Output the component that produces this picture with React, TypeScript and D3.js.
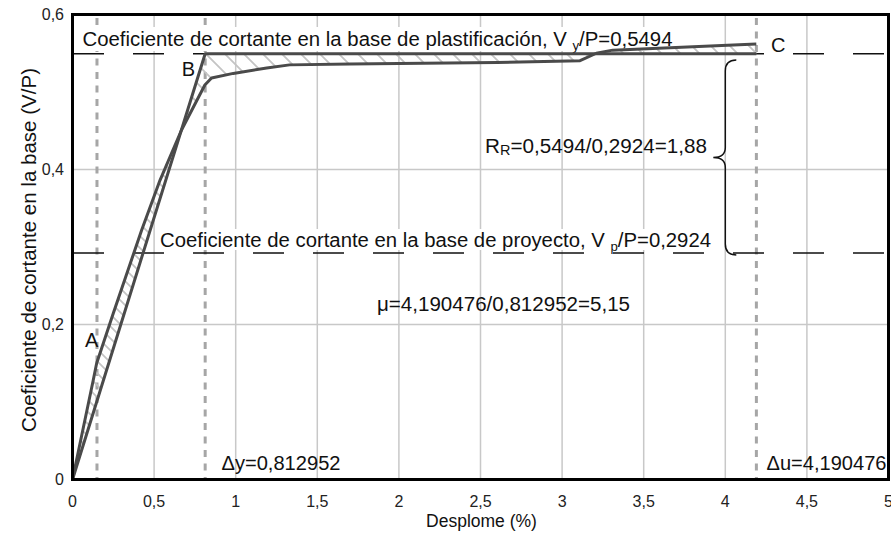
import React from "react";
import * as d3 from "d3";

// ---- data ----
const driftPct = [0, 0.127, 0.148, 0.25, 0.424, 0.536, 0.668, 0.811, 0.852, 0.985, 1.19, 1.33, 1.7, 2.6, 3.11, 3.21, 3.31, 4.19];
const shearCoef = [0, 0.128, 0.15, 0.2145, 0.322, 0.386, 0.451, 0.509, 0.518, 0.524, 0.531, 0.535, 0.536, 0.538, 0.5404, 0.55, 0.554, 0.562];
const bilinearDrift = [0, 0.812952, 4.190476];
const bilinearCoef = [0, 0.5494, 0.5494];
const refLevels = [0.5494, 0.2924];
const markerDrifts = [0.15, 0.812952, 4.190476];
const xTicks = [0, 0.5, 1, 1.5, 2, 2.5, 3, 3.5, 4, 4.5, 5];
const yTicks = [0, 0.2, 0.4, 0.6];
const crossingDrift = 0.668;
const brace = { x: 4.0, top: 0.5413, bottom: 0.2897 };
const pointLabels = [
  { t: "A", x: 0.076, y: 0.171 },
  { t: "B", x: 0.669, y: 0.521 },
  { t: "C", x: 4.28, y: 0.552 },
];

const W = 891, H = 535;
const X0 = 72.5, X1 = 888.5, Y0 = 479.5, Y1 = 14.5;
const FONT = "'Liberation Sans', Arial, sans-serif";
const fmt = (v: number) => String(v).replace(".", ",");

export default function App() {
  const x = d3.scaleLinear().domain([0, 5]).range([X0, X1]);
  const y = d3.scaleLinear().domain([0, 0.6]).range([Y0, Y1]);

  const pushInterp = d3.scaleLinear().domain(driftPct).range(shearCoef);
  const biInterp = d3.scaleLinear().domain(bilinearDrift).range(bilinearCoef);
  const xs = Array.from(new Set([...driftPct, bilinearDrift[1]])).sort((a, b) => a - b);
  const hatchData = xs.map((d) => ({ d, a: biInterp(d), b: pushInterp(d) }));

  const line = d3.line<[number, number]>().x((p) => x(p[0])).y((p) => y(p[1]));
  const pushPath = line(driftPct.map((d, i) => [d, shearCoef[i]]));
  const biPath = line(bilinearDrift.map((d, i) => [d, bilinearCoef[i]]));
  const area = d3
    .area<{ d: number; a: number; b: number }>()
    .x((p) => x(p.d))
    .y0((p) => y(p.a))
    .y1((p) => y(p.b));
  const hatchLow = area(hatchData.filter((p) => p.d <= crossingDrift));
  const hatchHigh = area(hatchData.filter((p) => p.d >= crossingDrift));

  // brace path
  const bx = x(brace.x), bt = y(brace.top), bb = y(brace.bottom);
  const bm = (bt + bb) / 2;
  const tipX = bx + 11, pointX = bx - 12;
  const bracePath = `M${tipX},${bt} Q${bx},${bt} ${bx},${bt + 11} L${bx},${bm - 10} Q${bx},${bm} ${pointX},${bm} Q${bx},${bm} ${bx},${bm + 10} L${bx},${bb - 11} Q${bx},${bb} ${tipX},${bb}`;

  return (
    <svg width={W} height={H} style={{ position: "absolute", left: 0, top: 0, background: "#fff" }} fontFamily={FONT}>
      <defs>
        <pattern id="hatchA" patternUnits="userSpaceOnUse" width={12} height={12}>
          <path d="M0,0 L12,12 M-6,6 L6,18 M6,-6 L18,6" stroke="#c4c4c4" strokeWidth={1.8} />
        </pattern>
        <pattern id="hatchB" patternUnits="userSpaceOnUse" width={19} height={19}>
          <path d="M0,0 L19,19 M-9.5,9.5 L9.5,28.5 M9.5,-9.5 L28.5,9.5" stroke="#c4c4c4" strokeWidth={1.8} />
        </pattern>
      </defs>
      <rect x={0} y={0} width={W} height={H} fill="#fff" />
      {/* grid */}
      {xTicks.slice(1, -1).map((t) => (
        <line key={"gx" + t} x1={x(t)} x2={x(t)} y1={Y0} y2={Y1} stroke="#c8c8c8" strokeWidth={1.5} />
      ))}
      {yTicks.slice(1, -1).map((t) => (
        <line key={"gy" + t} x1={X0} x2={X1} y1={y(t)} y2={y(t)} stroke="#c8c8c8" strokeWidth={1.5} />
      ))}
      {/* vertical dotted markers */}
      {markerDrifts.map((d) => (
        <line key={"m" + d} x1={x(d)} x2={x(d)} y1={Y1 + 3.5} y2={Y0} stroke="#a6a6a6" strokeWidth={3} strokeDasharray="7,6.5" />
      ))}
      {/* text boxes */}
      <rect x={80} y={27} width={597} height={24} fill="#fff" />
      <rect x={158} y={229} width={556} height={21} fill="#fff" />
      <text x={82.5} y={45.5} fontSize={20} fill="#111" textLength={590} lengthAdjust="spacingAndGlyphs">
        Coeficiente de cortante en la base de plastificación, V <tspan fontSize={13} dy={4}>y</tspan>
        <tspan dy={-4}>/P=0,5494</tspan>
      </text>
      <text x={160} y={246.7} fontSize={20} fill="#111" textLength={551} lengthAdjust="spacingAndGlyphs">
        Coeficiente de cortante en la base de proyecto, V <tspan fontSize={13} dy={4}>p</tspan>
        <tspan dy={-4}>/P=0,2924</tspan>
      </text>
      {/* dashed reference lines */}
      {refLevels.map((v) => (
        <line key={"r" + v} x1={X0 + 0.5} x2={X1} y1={y(v)} y2={y(v)} stroke="#111" strokeWidth={1.5} strokeDasharray="31,29" />
      ))}
      {/* hatch */}
      <path d={hatchLow || ""} fill="url(#hatchA)" stroke="none" />
      <path d={hatchHigh || ""} fill="url(#hatchB)" stroke="none" />
      {/* curves */}
      <path d={biPath || ""} fill="none" stroke="#4a4a4a" strokeWidth={3} strokeLinejoin="round" />
      <path d={pushPath || ""} fill="none" stroke="#4a4a4a" strokeWidth={3} strokeLinejoin="round" />
      {/* brace */}
      <path d={bracePath} fill="none" stroke="#111" strokeWidth={1.5} />
      {/* annotations */}
      <text x={485} y={153} fontSize={20} fill="#111" textLength={222} lengthAdjust="spacingAndGlyphs">
        R<tspan fontSize={14} dy={2}>R</tspan>
        <tspan dy={-2}>=0,5494/0,2924=1,88</tspan>
      </text>
      <text x={377} y={311} fontSize={20.5} fill="#111" textLength={253} lengthAdjust="spacingAndGlyphs">μ=4,190476/0,812952=5,15</text>
      <text x={221.5} y={470} fontSize={20} fill="#111" textLength={119} lengthAdjust="spacingAndGlyphs">Δy=0,812952</text>
      <text x={766.5} y={470} fontSize={20} fill="#111" textLength={120} lengthAdjust="spacingAndGlyphs">Δu=4,190476</text>
      {pointLabels.map((p) => (
        <text key={p.t} x={x(p.x)} y={y(p.y)} fontSize={20} fill="#111">{p.t}</text>
      ))}
      {/* frame */}
      <rect x={X0} y={Y1} width={X1 - X0} height={Y0 - Y1} fill="none" stroke="#000" strokeWidth={3} />
      {/* ticks */}
      {xTicks.map((t) => (
        <text key={"tx" + t} x={x(t)} y={507} fontSize={16} textAnchor="middle" fill="#222">{fmt(t)}</text>
      ))}
      {yTicks.map((t) => (
        <text key={"ty" + t} x={64} y={y(t) + 5.5} fontSize={16} textAnchor="end" fill="#222">{fmt(t)}</text>
      ))}
      <text x={481.5} y={527} fontSize={17.5} textAnchor="middle" fill="#111">Desplome (%)</text>
      <text transform={`translate(36,250) rotate(-90)`} fontSize={20} textAnchor="middle" fill="#111" textLength={364} lengthAdjust="spacingAndGlyphs">
        Coeficiente de cortante en la base (V/P)
      </text>
    </svg>
  );
}
